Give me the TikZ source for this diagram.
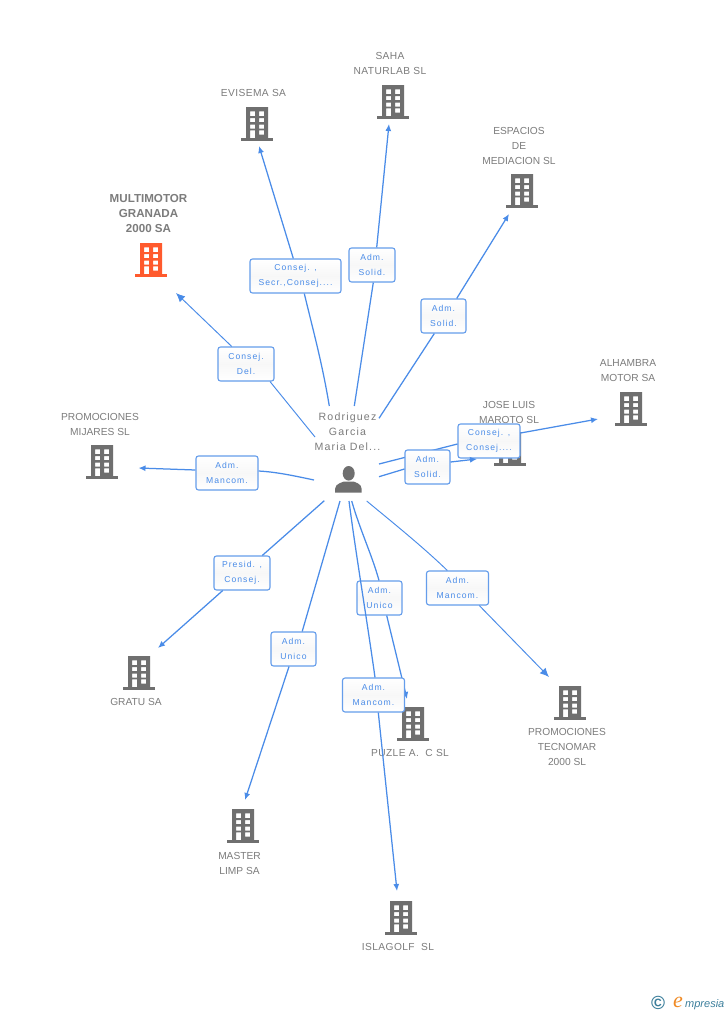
\documentclass[tikz,border=0pt]{standalone}
\usepackage{fontspec}
\setmainfont{Liberation Sans}
\newfontfamily\boxfont[LetterSpace=12]{Liberation Sans}
\newfontfamily\personfont[LetterSpace=11]{Liberation Sans}
\newfontfamily\widefont[LetterSpace=4]{Liberation Sans}
\newfontfamily\logofont{Liberation Serif}
\usetikzlibrary{arrows.meta,shadings}
\definecolor{edgeblue}{HTML}{4A8CE8}
\definecolor{icongray}{HTML}{6F6F6F}
\definecolor{textgray}{HTML}{7C7C7C}
\definecolor{iconorange}{HTML}{FF5A2D}
\definecolor{logoteal}{HTML}{3C7F9C}
\definecolor{logoorange}{HTML}{F08A24}
\tikzset{
  x=1pt,y=-1pt,
  conn/.style={draw=edgeblue,line width=1.25pt},
  thinconn/.style={draw=edgeblue,line width=0.95pt},
  arr/.style={conn,-{Latex[length=7pt,width=6pt]}},
  thinarr/.style={thinconn,-{Latex[length=9pt,width=8pt]}},
  rolebox/.style={draw=edgeblue!85,line width=1.1pt,rounded corners=2.5pt,top color=white,bottom color=white,middle color=gray!6,
    text=edgeblue,font=\boxfont\fontsize{8.6}{15}\selectfont,align=center,inner sep=0pt,minimum height=34pt},
  entity/.style={text=textgray,font=\fontsize{10.2}{15}\selectfont,align=center,inner sep=0pt},
  entitywide/.style={text=textgray,font=\widefont\fontsize{10.2}{15}\selectfont,align=center,inner sep=0pt},
  entitybold/.style={text=textgray,font=\bfseries\fontsize{11.6}{15}\selectfont,align=center,inner sep=0pt},
  person/.style={text=textgray,font=\personfont\fontsize{10.6}{15}\selectfont,align=center,inner sep=0pt},
  pics/bldg/.style={code={
    \fill[#1,even odd rule] (-11,-17) rectangle (11,14)
      (-7,-12.7) rectangle (-2,-8) (2,-12.7) rectangle (7,-8)
      (-7,-6) rectangle (-2,-2) (2,-6) rectangle (7,-2)
      (-7,0.7) rectangle (-2,4.7) (2,0.7) rectangle (7,4.7)
      (-7,6.3) rectangle (-2,14) (2,6.3) rectangle (7,10.7);
    \fill[#1] (-15.7,14) rectangle (15.7,16.8);
  }},
}
\begin{document}
\begin{tikzpicture}
\useasboundingbox (0,0) rectangle (728,1015);
\fill[white] (0,0) rectangle (728,1015);

% buildings
\pic at (393,102) {bldg=icongray};
\pic at (257,124) {bldg=icongray};
\pic at (522,191) {bldg=icongray};
\pic at (151,260) {bldg=iconorange};
\pic at (631,409) {bldg=icongray};
\pic at (510,449) {bldg=icongray};
\pic at (102,462) {bldg=icongray};
\pic at (139,673) {bldg=icongray};
\pic at (413,724) {bldg=icongray};
\pic at (570,703) {bldg=icongray};
\pic at (243,826) {bldg=icongray};
\pic at (401,918) {bldg=icongray};

% entity names
\node[entitywide] (saha) at (390,63.5) {SAHA\\NATURLAB SL};
\node[entitywide] (evisema) at (253.5,93) {EVISEMA SA};
\node[entity] (espacios) at (519,146) {ESPACIOS\\DE\\MEDIACION SL};
\node[entitybold] (multimotor) at (148.5,214) {MULTIMOTOR\\GRANADA\\2000 SA};
\node[entity] (alhambra) at (628,371) {ALHAMBRA\\MOTOR SA};
\node[entity] (joseluis) at (509,412) {JOSE LUIS\\MAROTO SL};
\node[entity] (mijares) at (100,424) {PROMOCIONES\\MIJARES SL};
\node[entity] (gratu) at (136,702) {GRATU SA};
\node[entitywide] (puzle) at (410,753) {PUZLE A.\ \ C SL};
\node[entity] (tecnomar) at (567,747) {PROMOCIONES\\TECNOMAR\\2000 SL};
\node[entity] (master) at (239.5,863) {MASTER\\LIMP SA};
\node[entitywide] (islagolf) at (398,947) {ISLAGOLF\ \ SL};

% person
\node[person] (personname) at (347.5,432) {Rodriguez\\Garcia\\Maria Del...};
\fill[icongray] (348.7,473.3) ellipse (6 and 7.3);
\fill[icongray] (335,492.7) .. controls (335,485) and (336,484.5) .. (344,481.5) -- (353.5,481.5) .. controls (361,484.5) and (361.7,485) .. (361.7,492.7) -- cycle;

% free ends of the connectors
\coordinate (sEvi) at (329.3,406);
\coordinate (sSaha) at (354.3,406);
\coordinate (sEsp) at (379,418.3);
\coordinate (sMul) at (315,437);
\coordinate (sAlh) at (379,464);
\coordinate (sJos) at (379,476.7);
\coordinate (sMij) at (314,480);
\coordinate (sGra) at (324.3,500.7);
\coordinate (sMas) at (340,501);
\coordinate (sPuz) at (351.7,501);
\coordinate (sIsl) at (349,501);
\coordinate (sTec) at (366.7,501);
\coordinate (tEvi) at (259,146);
\coordinate (tSaha) at (389,124);
\coordinate (tEsp) at (509,214);
\coordinate (tMul) at (176,293);
\coordinate (tAlh) at (598,419);
\coordinate (tJos) at (477,459);
\coordinate (tMij) at (138.5,468);
\coordinate (tGra) at (158,648);
\coordinate (tMas) at (245,800);
\coordinate (tPuz) at (407,699);
\coordinate (tIsl) at (397,891);
\coordinate (tTec) at (549,677);

% role boxes
\node[rolebox,minimum width=62pt] (bAlh) at (489,441) {Consej. ,\\Consej....};
\draw[conn] (sAlh) -- ([yshift=-3pt]bAlh.west);
\draw[arr] ([yshift=8pt]bAlh.east) -- (tAlh);
\node[rolebox,minimum width=91pt] (bEvi) at (295.5,276) {Consej. ,\\Secr.,Consej....};
\node[rolebox,minimum width=46pt] (bSaha) at (372,265) {Adm.\\Solid.};
\node[rolebox,minimum width=45pt] (bEsp) at (443.5,316) {Adm.\\Solid.};
\node[rolebox,minimum width=56pt] (bMul) at (246,364) {Consej.\\Del.};
\node[rolebox,minimum width=45pt] (bJos) at (427.5,467) {Adm.\\Solid.};
\node[rolebox,minimum width=62pt] (bMij) at (227,473) {Adm.\\Mancom.};
\node[rolebox,minimum width=56pt] (bGra) at (242,573) {Presid. ,\\Consej.};
\node[rolebox,minimum width=45pt] (bMas) at (293.5,649) {Adm.\\Unico};
\node[rolebox,minimum width=45pt] (bPuz) at (379.5,598) {Adm.\\Unico};
\node[rolebox,minimum width=62pt] (bTec) at (457.5,588) {Adm.\\Mancom.};

% connectors
\draw[conn] (sEvi) .. controls (322,362) and (313,330) .. ([xshift=8.8pt]bEvi.south);
\draw[arr] ([xshift=-2.2pt]bEvi.north) -- (tEvi);
\draw[conn] (sSaha) -- ([xshift=1.3pt]bSaha.south);
\draw[arr] ([xshift=4.7pt]bSaha.north) -- (tSaha);
\draw[conn] (sEsp) -- ([xshift=-9.2pt]bEsp.south);
\draw[arr] ([xshift=13.2pt]bEsp.north) -- (tEsp);
\draw[thinconn] (sMul) -- ([xshift=24pt]bMul.south);
\draw[thinarr] ([xshift=-14.3pt]bMul.north) -- (tMul);
\draw[conn] (sJos) -- ([yshift=-2pt]bJos.west);
\draw[arr] ([yshift=5pt]bJos.east) -- (tJos);
\draw[conn] (sMij) .. controls (295,476) and (277,472) .. ([yshift=2pt]bMij.east);
\draw[arr] ([yshift=3pt]bMij.west) -- (tMij);
\draw[conn] (sGra) -- ([xshift=20.3pt]bGra.north);
\draw[arr] ([xshift=-19.3pt]bGra.south) -- (tGra);
\draw[conn] (sMas) -- ([xshift=8.7pt]bMas.north);
\draw[arr] ([xshift=-4.5pt]bMas.south) -- (tMas);
\draw[conn] (sPuz) .. controls (360,530) and (372,555) .. ([xshift=-0.5pt]bPuz.north);
\draw[arr] ([xshift=7.2pt]bPuz.south) -- (tPuz);
\draw[thinconn] (sTec) .. controls (392,522) and (422,546) .. ([xshift=-10.2pt]bTec.north);
\draw[thinarr] ([xshift=21.8pt]bTec.south) -- (tTec);

\node[rolebox,minimum width=62pt] (bIsl) at (373.5,695) {Adm.\\Mancom.};
\draw[conn] (sIsl) .. controls (356,555) and (367,620) .. ([xshift=1.5pt]bIsl.north);
\draw[arr] ([xshift=4.8pt]bIsl.south) -- (tIsl);

% logo
\node[inner sep=0pt,text=logoteal,font=\bfseries\fontsize{19}{19}\selectfont] (logoc) at (658,1003) {\textcopyright};
\node[inner sep=0pt,anchor=base west,text=logoorange,font=\logofont\itshape\fontsize{22}{22}\selectfont] (logoe) at (673,1007.5) {e};
\node[inner sep=0pt,anchor=base west,text=logoteal,font=\itshape\fontsize{11}{14}\selectfont] (logot) at (685,1007.5) {mpresia};
\end{tikzpicture}
\end{document}
